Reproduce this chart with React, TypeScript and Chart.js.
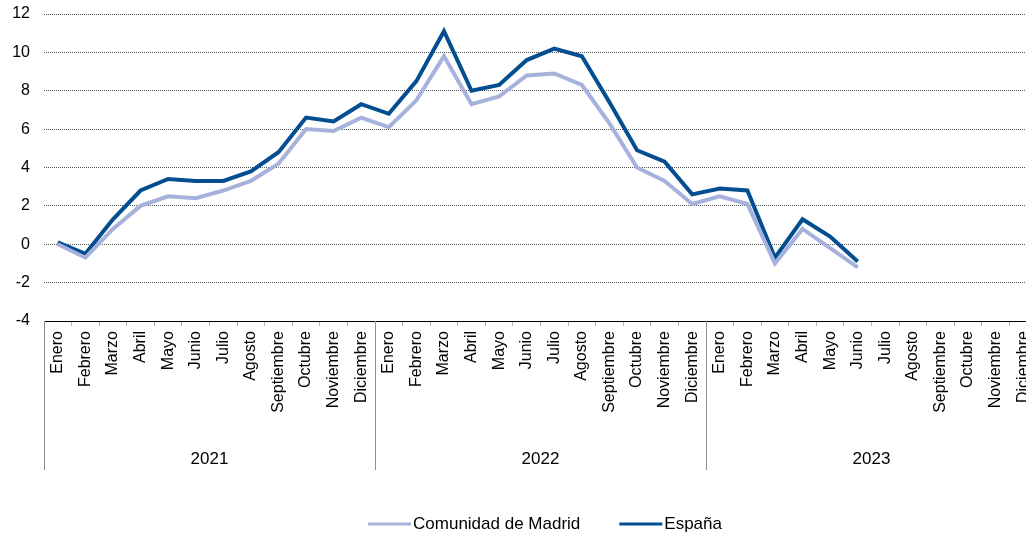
import React, { useEffect, useRef } from 'react';
import { Chart, registerables } from 'chart.js';

Chart.register(...registerables);

const months = ['Enero', 'Febrero', 'Marzo', 'Abril', 'Mayo', 'Junio', 'Julio', 'Agosto', 'Septiembre', 'Octubre', 'Noviembre', 'Diciembre'];
const years = ['2021', '2022', '2023'];
const categories = [...months, ...months, ...months];

const madrid = [
  0.0, -0.7, 0.8, 2.0, 2.5, 2.4, 2.8, 3.3, 4.2, 6.0, 5.9, 6.6,
  6.1, 7.5, 9.8, 7.3, 7.7, 8.8, 8.9, 8.3, 6.3, 4.0, 3.3, 2.1,
  2.5, 2.1, -1.0, 0.8, -0.2, -1.2, null, null, null, null, null, null,
];
const espana = [
  0.1, -0.5, 1.3, 2.8, 3.4, 3.3, 3.3, 3.8, 4.8, 6.6, 6.4, 7.3,
  6.8, 8.5, 11.1, 8.0, 8.3, 9.6, 10.2, 9.8, 7.4, 4.9, 4.3, 2.6,
  2.9, 2.8, -0.7, 1.3, 0.4, -0.9, null, null, null, null, null, null,
];
const seriesNames = ['Comunidad de Madrid', 'España'];
const seriesColors = ['#A7B2DC', '#034E90'];

const FONT = "'Liberation Sans', Arial, sans-serif";

const yearPlugin = {
  id: 'yearRow',
  afterDraw(chart: any) {
    const xs = chart.scales.x;
    const area = chart.chartArea;
    const ctx = chart.ctx;
    const half = (xs.getPixelForValue(1) - xs.getPixelForValue(0)) / 2;
    ctx.save();
    ctx.strokeStyle = '#8c8c8c';
    ctx.lineWidth = 1;
    ctx.fillStyle = '#000';
    ctx.font = `17px ${FONT}`;
    ctx.textAlign = 'center';
    ctx.textBaseline = 'middle';
    years.forEach((yr, i) => {
      const left = xs.getPixelForValue(i * 12) - half;
      const right = xs.getPixelForValue(i * 12 + 11) + half;
      const edges = i === years.length - 1 ? [left, right] : [left];
      edges.forEach((e) => {
        const x = Math.round(e) + 0.5;
        ctx.beginPath();
        ctx.moveTo(x, area.bottom);
        ctx.lineTo(x, area.bottom + 149);
        ctx.stroke();
      });
      ctx.fillText(yr, (left + right) / 2, area.bottom + 138);
    });
    ctx.restore();
  },
};

const legendPlugin = {
  id: 'customLegend',
  afterDraw(chart: any) {
    const ctx = chart.ctx;
    const area = chart.chartArea;
    const lineW = 43;
    const gapText = 2;
    const gapItem = 39;
    ctx.save();
    ctx.font = `17px ${FONT}`;
    const items = chart.data.datasets.map((d: any) => ({
      text: d.label,
      color: d.borderColor,
      w: lineW + gapText + ctx.measureText(d.label).width,
    }));
    const total = items.reduce((s: number, it: any) => s + it.w, 0) + gapItem * (items.length - 1);
    let x = (area.left + area.right) / 2 + 4.5 - total / 2;
    const y = 524;
    items.forEach((it: any) => {
      ctx.strokeStyle = it.color;
      ctx.lineWidth = 3;
      ctx.beginPath();
      ctx.moveTo(x, y);
      ctx.lineTo(x + lineW, y);
      ctx.stroke();
      ctx.fillStyle = '#000';
      ctx.textAlign = 'left';
      ctx.textBaseline = 'middle';
      ctx.fillText(it.text, x + lineW + gapText, y);
      x += it.w + gapItem;
    });
    ctx.restore();
  },
};

export default function App() {
  const ref = useRef<HTMLCanvasElement>(null);
  useEffect(() => {
    if (!ref.current) return;
    const chart = new Chart(ref.current, {
      type: 'line',
      data: {
        labels: categories,
        datasets: [
          {
            label: seriesNames[0],
            data: madrid,
            borderColor: seriesColors[0],
            backgroundColor: seriesColors[0],
            borderWidth: 4,
            pointRadius: 0,
            tension: 0,
            spanGaps: false,
          },
          {
            label: seriesNames[1],
            data: espana,
            borderColor: seriesColors[1],
            backgroundColor: seriesColors[1],
            borderWidth: 4,
            pointRadius: 0,
            tension: 0,
            spanGaps: false,
          },
        ],
      },
      options: {
        animation: false,
        responsive: false,
        devicePixelRatio: 1,
        layout: { padding: { top: 14, right: 1, left: 0, bottom: 0 } },
        plugins: {
          legend: { display: false },
          tooltip: { enabled: false },
        },
        scales: {
          x: {
            type: 'category',
            offset: true,
            grid: {
              display: true,
              drawOnChartArea: false,
              drawTicks: true,
              tickLength: 5,
              offset: true,
              color: '#b5b5b5',
              tickColor: '#b5b5b5',
            },
            border: { display: true, color: '#000', width: 1 },
            ticks: {
              autoSkip: false,
              minRotation: 90,
              maxRotation: 90,
              padding: 5,
              color: '#000',
              font: { family: FONT, size: 16 },
            },
            afterFit: (s: any) => {
              s.height = 218;
              s.paddingLeft = 0;
              s.paddingRight = 0;
            },
          },
          y: {
            min: -4,
            max: 12,
            ticks: {
              stepSize: 2,
              color: '#000',
              padding: 14,
              font: { family: FONT, size: 16 },
            },
            grid: { color: '#555', drawTicks: false, lineWidth: 1 },
            border: { display: false, dash: [1, 1] },
            afterFit: (s: any) => {
              s.width = 44;
              s.paddingTop = 0;
              s.paddingBottom = 0;
            },
          },
        },
      },
      plugins: [yearPlugin, legendPlugin],
    });
    return () => chart.destroy();
  }, []);

  return (
    <div style={{ position: 'fixed', left: 0, top: 0, width: 1026, height: 539, overflow: 'hidden', background: '#fff' }}>
      <canvas ref={ref} width={1038} height={539} style={{ display: 'block' }} />
    </div>
  );
}
